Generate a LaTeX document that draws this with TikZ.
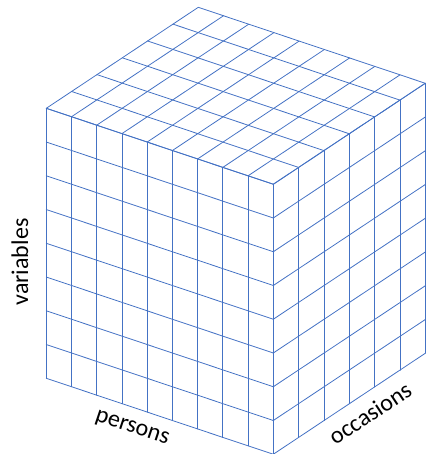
\documentclass[tikz,border=0pt]{standalone}
\usepackage{fontspec}
\setmainfont{Carlito}
\definecolor{gridblue}{HTML}{4472C4}
\begin{document}
\begin{tikzpicture}[x={(25.22pt,-8.44pt)}, y={(0pt,33.75pt)}, z={(25.33pt,16.83pt)},
  gridline/.style={draw=gridblue, line width=0.8pt, line cap=round, line join=round},
  label/.style={font=\fontsize{24}{27}\selectfont, text=black, inner sep=0pt}]
\useasboundingbox (0pt,0pt) rectangle (426pt,454pt);
\begin{scope}[shift={(46.3pt,75.7pt)}]
  % front face
  \foreach \i in {0,...,9} \draw[gridline] (\i,0,0) -- (\i,8,0);
  \foreach \j in {0,...,8} \draw[gridline] (0,\j,0) -- (9,\j,0);
  % right face
  \foreach \k in {0,...,6} \draw[gridline] (9,0,\k) -- (9,8,\k);
  \foreach \j in {0,...,8} \draw[gridline] (9,\j,0) -- (9,\j,6);
  % top face
  \foreach \i in {0,...,9} \draw[gridline] (\i,8,0) -- (\i,8,6);
  \foreach \k in {0,...,6} \draw[gridline] (0,8,\k) -- (9,8,\k);
\end{scope}
\node[label, rotate=90] (vars) at (20pt,192pt) {variables};
\node[label, rotate=-18.5] (pers) at (132pt,25pt) {persons};
\node[label, rotate=33.6] (occ) at (370pt,41pt) {occasions};
\end{tikzpicture}
\end{document}
